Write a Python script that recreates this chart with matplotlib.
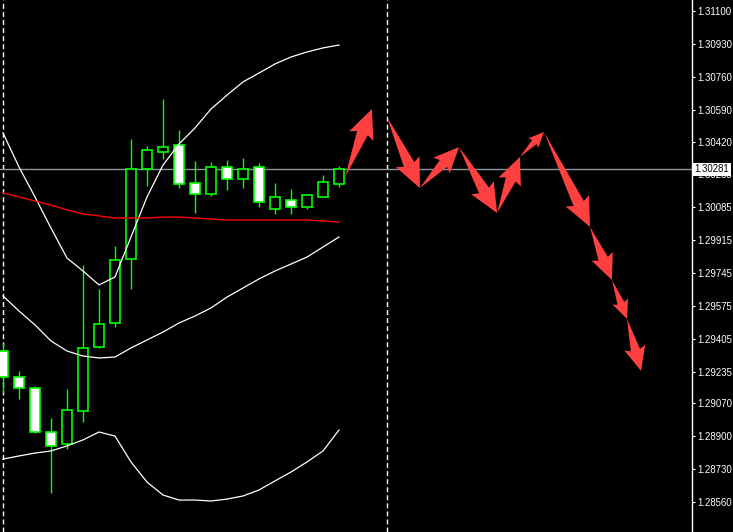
import matplotlib
matplotlib.use("Agg")
import matplotlib.pyplot as plt
from matplotlib.patches import Polygon
import numpy as np

# candles, one per bar index (0 = first visible bar)
opens  = [1.29341, 1.29207, 1.29150, 1.28922, 1.28860, 1.29031, 1.29362, 1.29486, 1.29817, 1.30283, 1.30371,
          1.30407, 1.30210, 1.30153, 1.30293, 1.30231, 1.30293, 1.30076, 1.30122, 1.30086, 1.30138, 1.30205]
highs  = [1.29383, 1.29238, 1.29160, 1.28995, 1.29145, 1.29786, 1.29662, 1.29884, 1.30438, 1.30402, 1.30645,
          1.30484, 1.30324, 1.30319, 1.30329, 1.30340, 1.30314, 1.30210, 1.30179, 1.30148, 1.30252, 1.30298]
lows   = [1.29124, 1.29093, 1.28917, 1.28607, 1.28834, 1.28974, 1.29357, 1.29465, 1.29662, 1.30195, 1.30334,
          1.30184, 1.30055, 1.30143, 1.30174, 1.30184, 1.30086, 1.30050, 1.30050, 1.30076, 1.30138, 1.30190]
closes = [1.29207, 1.29150, 1.28922, 1.28850, 1.29036, 1.29357, 1.29481, 1.29812, 1.30283, 1.30381, 1.30396,
          1.30205, 1.30153, 1.30293, 1.30231, 1.30283, 1.30112, 1.30138, 1.30086, 1.30148, 1.30215, 1.30281]

# bollinger bands + moving average
bb_upper = [1.30469, 1.30293, 1.30138, 1.29977, 1.29822, 1.29755, 1.29683, 1.29724, 1.29931, 1.30138, 1.30303,
            1.30412, 1.30495, 1.30593, 1.30665, 1.30733, 1.30779, 1.30826, 1.30862, 1.30888, 1.30909, 1.30924]
bb_mid   = [1.29626, 1.29548, 1.29476, 1.29393, 1.29341, 1.29315, 1.29305, 1.29310, 1.29357, 1.29398, 1.29439,
            1.29486, 1.29522, 1.29564, 1.29620, 1.29667, 1.29714, 1.29755, 1.29791, 1.29827, 1.29879, 1.29931]
bb_lower = [1.28782, 1.28798, 1.28813, 1.28824, 1.28850, 1.28881, 1.28922, 1.28901, 1.28767, 1.28663, 1.28596,
            1.28570, 1.28570, 1.28565, 1.28575, 1.28591, 1.28622, 1.28669, 1.28715, 1.28767, 1.28824, 1.28932]
ma_red   = [1.30159, 1.30138, 1.30117, 1.30096, 1.30071, 1.30050, 1.30040, 1.30029, 1.30029, 1.30029, 1.30034,
            1.30034, 1.30029, 1.30024, 1.30019, 1.30019, 1.30019, 1.30019, 1.30019, 1.30019, 1.30014, 1.30008]

# forecast arrows (bar index, price)
arrow_x0 = [21.38, 24.0, 26.06, 28.5, 30.88, 32.31, 33.81, 36.69, 38.06, 39.0]
arrow_y0 = [1.30241, 1.30552, 1.30184, 1.30396, 1.30055, 1.30345, 1.30474, 1.29983, 1.29708, 1.29507]
arrow_x1 = [23.06, 26.06, 28.5, 30.88, 32.31, 33.81, 36.69, 38.06, 39.0, 39.88]
arrow_y1 = [1.30593, 1.30184, 1.30396, 1.30055, 1.30345, 1.30474, 1.29983, 1.29708, 1.29507, 1.29238]

price_ticks = [1.31100, 1.30930, 1.30760, 1.30590, 1.30420, 1.30255, 1.30085, 1.29915, 1.29745,
               1.29575, 1.29405, 1.29235, 1.29070, 1.28900, 1.28730, 1.28560]
bid = 1.30281
separators = [0, 24]

fig = plt.figure(figsize=(7.33, 5.32), dpi=100, facecolor="black")
ax = fig.add_axes([0, 0, 692 / 733, 1])
ax.set_facecolor("black")
ax.set_xlim(-0.1875, 43.0625)
ax.set_ylim(1.284047, 1.311569)

for s in ["top", "left", "bottom"]:
    ax.spines[s].set_visible(False)
ax.spines["right"].set_color("white")
ax.spines["right"].set_linewidth(1.0)
ax.set_xticks([])
ax.yaxis.tick_right()
ax.set_yticks(price_ticks)
ax.set_yticklabels([f"{t:.5f}" for t in price_ticks], family="Liberation Sans")
ax.tick_params(axis="y", colors="white", length=2.5, width=0.8, pad=1.2, labelsize=6.9)

# period separators + bid line
for sx in separators:
    ax.axvline(sx, color="white", lw=1.0, ls=(0, (3.6, 2.2)), zorder=0.5)
ax.axhline(bid, color="#8c96a0", lw=1.0, zorder=0.8)

# candles
idx = np.arange(len(opens))
o = np.array(opens); c = np.array(closes)
ax.vlines(idx, lows, highs, color="#00ff00", lw=1.0, zorder=2)
bear = c < o
ax.bar(idx, np.abs(c - o), bottom=np.minimum(o, c), width=0.64,
       color=np.where(bear, "white", "black"), edgecolor="#00ff00", lw=1.2, zorder=3)

# indicators
ax.plot(idx, bb_upper, color="white", lw=0.9, zorder=4)
ax.plot(idx, bb_mid, color="white", lw=0.9, zorder=4)
ax.plot(idx, bb_lower, color="white", lw=0.9, zorder=4)
ax.plot(idx, ma_red, color="#ff0000", lw=1.0, zorder=4)

# tapered arrows, built in pixel space so the heads keep their shape
def arrow_shape(x0, y0, x1, y1):
    p0 = ax.transData.transform((x0, y0))
    p1 = ax.transData.transform((x1, y1))
    d = p1 - p0
    L = np.hypot(*d)
    u = d / L
    n = np.array([-u[1], u[0]])
    hl = min(26, 0.4 * L)
    base = p1 - u * hl
    pts = [p0, base + n * 0.22 * hl, base - u * 0.12 * hl + n * 0.5 * hl, p1,
           base - u * 0.12 * hl - n * 0.5 * hl, base - n * 0.22 * hl]
    return ax.transData.inverted().transform(pts)

for a, b, cc, dd in zip(arrow_x0, arrow_y0, arrow_x1, arrow_y1):
    ax.add_patch(Polygon(arrow_shape(a, b, cc, dd), closed=True,
                         facecolor="#ff4040", edgecolor="none", zorder=5))

# bid label on the price scale
ax.text(1.004, bid, f"{bid:.5f}", transform=ax.get_yaxis_transform(),
        ha="left", va="center", fontsize=6.9, family="Liberation Sans", color="black",
        bbox=dict(facecolor="white", edgecolor="none", pad=1.2), zorder=10, clip_on=False)

fig.savefig("out.png", dpi=100, facecolor="black")
